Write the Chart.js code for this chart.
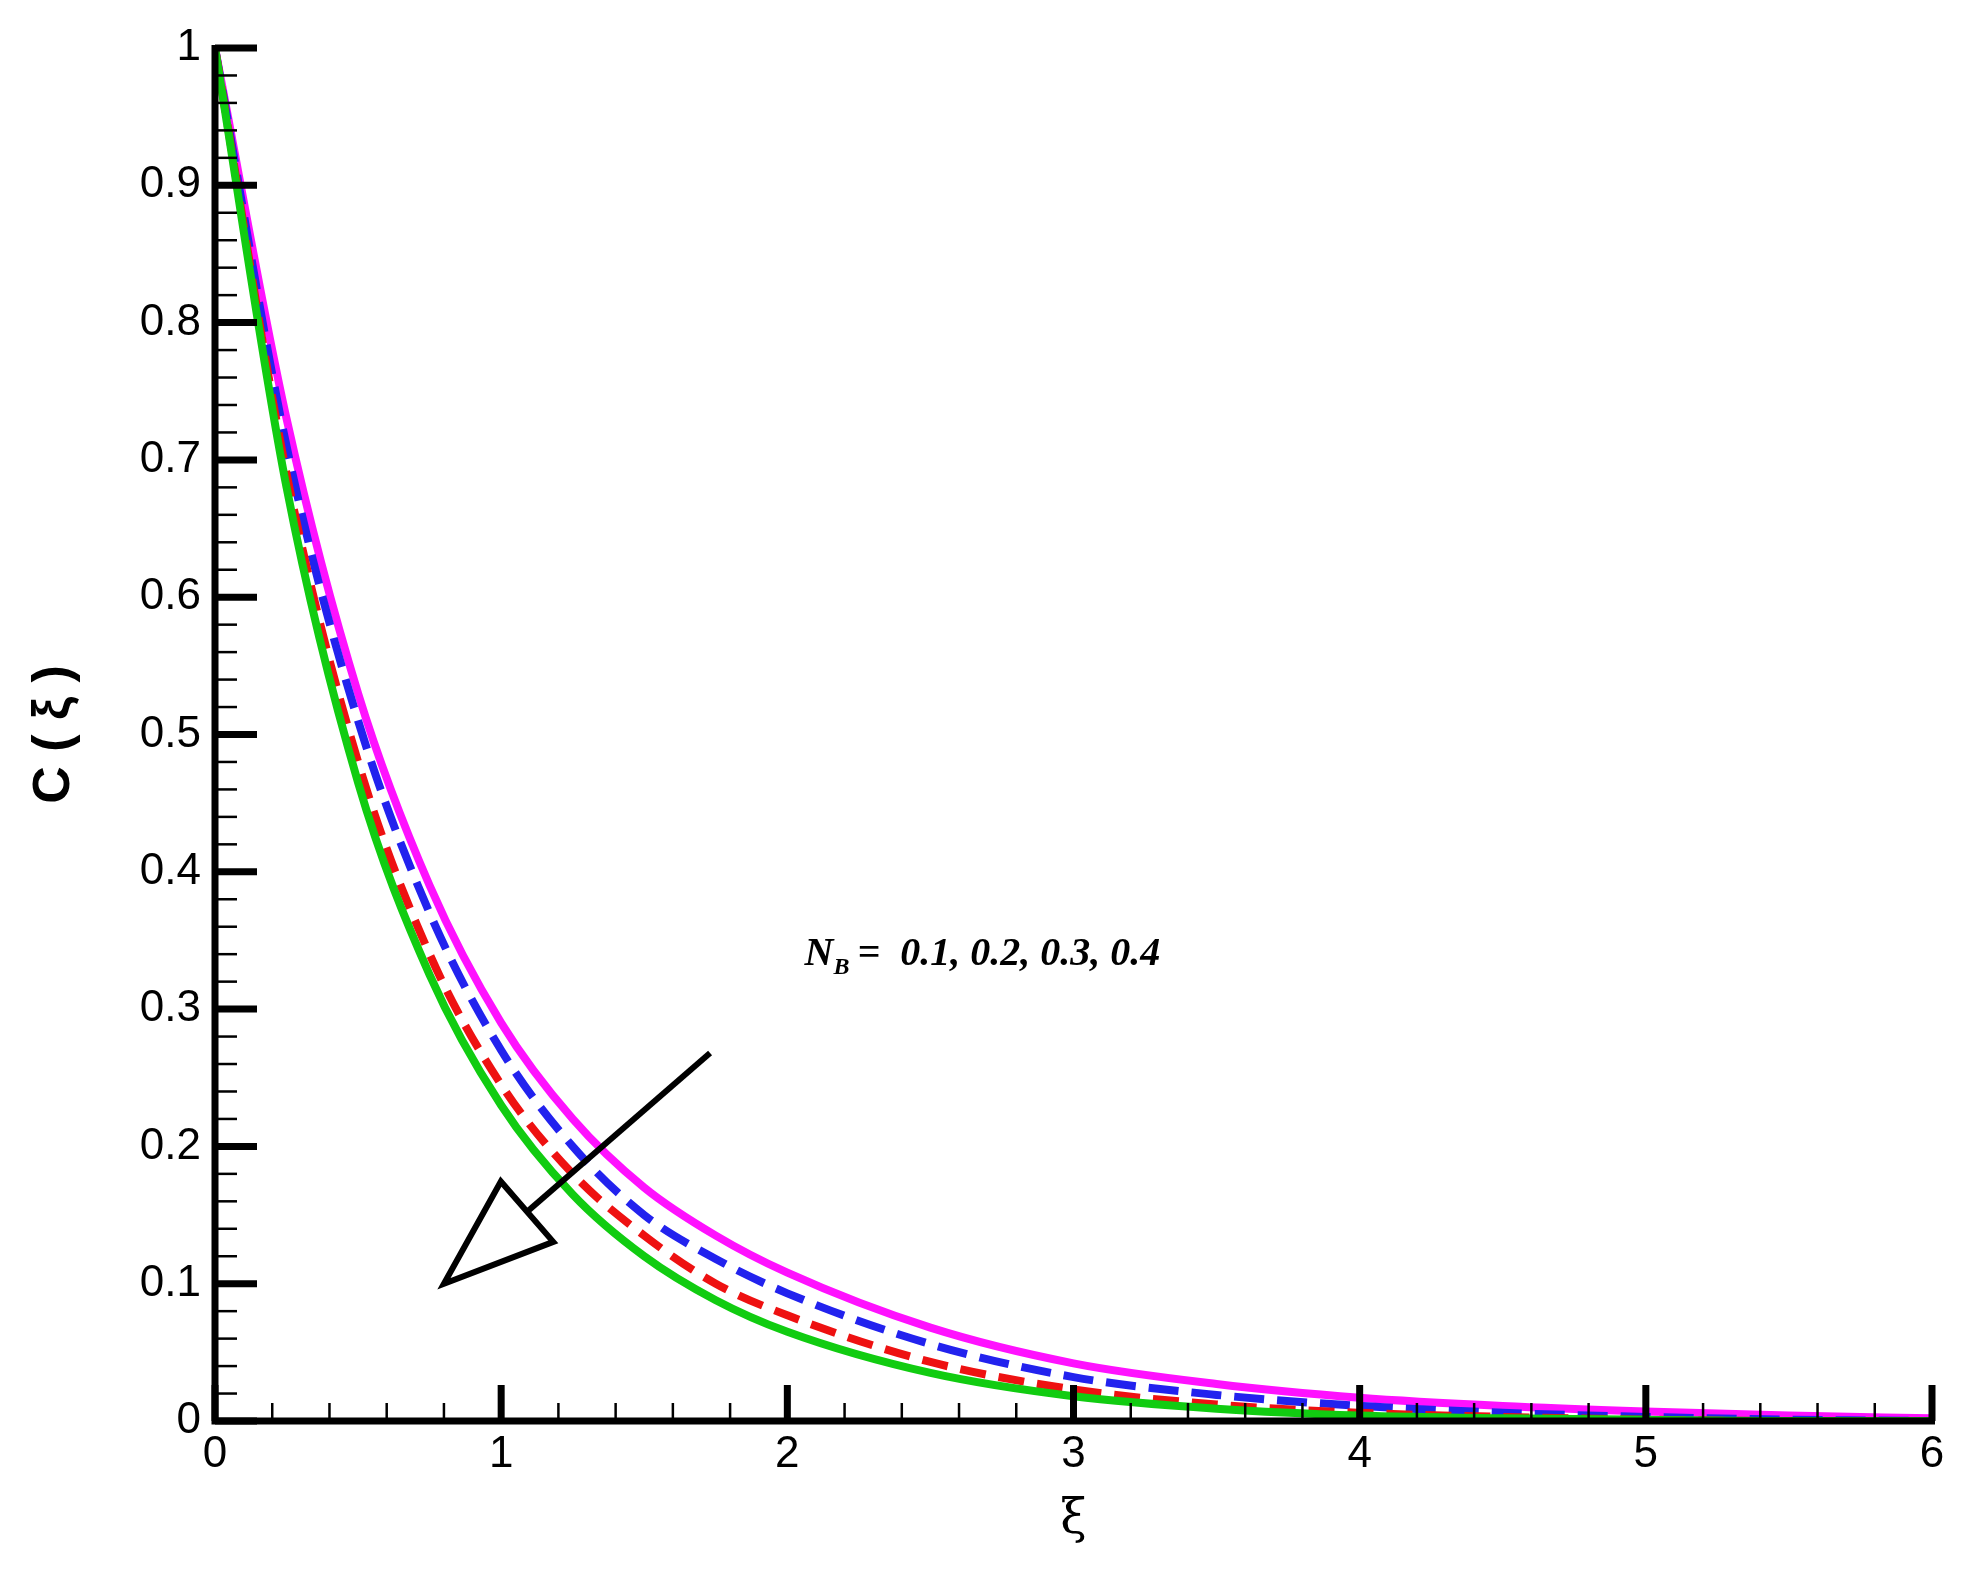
<!DOCTYPE html>
<html><head><meta charset="utf-8">
<script src="https://cdn.jsdelivr.net/npm/chart.js@4/dist/chart.umd.min.js"></script>
<style>html,body{margin:0;background:#fff}#wrap{width:1970px;height:1584px}</style>
</head><body><div id="wrap"><canvas id="c"></canvas></div>
<script>
// ── Data ─────────────────────────────────────
const XI      = [0, 0.25, 0.5, 0.75, 1, 1.25, 1.5, 1.75, 2, 2.5, 3, 3.5, 4, 4.5, 5, 5.5, 6];
const NB_01   = [1, 0.73, 0.53, 0.39, 0.29, 0.22, 0.17, 0.135, 0.108, 0.068, 0.042, 0.027, 0.017, 0.011, 0.007, 0.004, 0.002];
const NB_02   = [1, 0.71, 0.51, 0.37, 0.27, 0.20, 0.15, 0.118, 0.093, 0.056, 0.032, 0.019, 0.011, 0.006, 0.003, 0.001, 0];
const NB_03   = [1, 0.69, 0.48, 0.34, 0.245, 0.18, 0.135, 0.10, 0.077, 0.043, 0.023, 0.012, 0.006, 0.003, 0.001, 0, 0];
const NB_04   = [1, 0.68, 0.465, 0.325, 0.23, 0.165, 0.12, 0.088, 0.065, 0.035, 0.018, 0.009, 0.004, 0.002, 0.001, 0, 0];
const X_TICKS = [0, 1, 2, 3, 4, 5, 6];
const Y_TICKS = [0, 0.1, 0.2, 0.3, 0.4, 0.5, 0.6, 0.7, 0.8, 0.9, 1];

const pts = ys => XI.map((x, i) => ({ x, y: ys[i] }));

// ── Axes, labels and arrow drawn by hand ─────
const frame = {
  id: 'frame',
  afterDraw(chart) {
    const { ctx, chartArea: a, scales: { x, y } } = chart;
    ctx.save();
    ctx.strokeStyle = '#000';
    ctx.fillStyle = '#000';
    ctx.lineCap = 'butt';
    // axis lines
    ctx.lineWidth = 7;
    ctx.beginPath();
    ctx.moveTo(a.left, a.top - 3); ctx.lineTo(a.left, a.bottom);
    ctx.lineTo(a.right + 3, a.bottom);
    ctx.stroke();
    // x ticks
    for (let v = 0; v <= 6.001; v += 0.2) {
      const px = x.getPixelForValue(v);
      const major = Math.abs(v - Math.round(v)) < 1e-6;
      ctx.lineWidth = major ? 7 : 2.5;
      ctx.beginPath();
      ctx.moveTo(px, a.bottom); ctx.lineTo(px, a.bottom - (major ? 36 : 18));
      ctx.stroke();
    }
    // y ticks
    for (let v = 0; v <= 1.0001; v += 0.02) {
      const py = y.getPixelForValue(v);
      const major = Math.abs(v * 10 - Math.round(v * 10)) < 1e-6;
      ctx.lineWidth = major ? 7 : 2.5;
      ctx.beginPath();
      ctx.moveTo(a.left, py); ctx.lineTo(a.left + (major ? 42 : 22), py);
      ctx.stroke();
    }
    // tick labels
    ctx.font = '44px "Liberation Sans", Arial, sans-serif';
    ctx.textAlign = 'center'; ctx.textBaseline = 'top';
    X_TICKS.forEach(v => ctx.fillText(String(v), x.getPixelForValue(v), a.bottom + 12));
    ctx.textAlign = 'right'; ctx.textBaseline = 'middle';
    Y_TICKS.forEach(v => ctx.fillText(String(v), a.left - 14, y.getPixelForValue(v)));
    // axis titles
    ctx.textAlign = 'center';
    ctx.font = '48px "DejaVu Serif", serif';
    ctx.fillText('ξ', x.getPixelForValue(3), a.bottom + 100);
    ctx.save();
    ctx.translate(55, y.getPixelForValue(0.5));
    ctx.rotate(-Math.PI / 2);
    ctx.font = 'bold 52px "Liberation Sans", Arial, sans-serif';
    ctx.fillText('C ( ξ )', 0, 0);
    ctx.restore();
    // annotation
    ctx.textAlign = 'left';
    ctx.font = 'bold italic 40px "Liberation Serif", serif';
    const tx = x.getPixelForValue(2.06), ty = y.getPixelForValue(0.34);
    ctx.fillText('N', tx, ty);
    const nw = ctx.measureText('N').width;
    ctx.font = 'bold italic 24px "Liberation Serif", serif';
    ctx.fillText('B', tx + nw, ty + 14);
    ctx.font = 'bold italic 40px "Liberation Serif", serif';
    ctx.fillText(' =  0.1, 0.2, 0.3, 0.4', tx + nw + 14, ty);
    // arrow
    const x1 = x.getPixelForValue(1.73), y1 = y.getPixelForValue(0.268);
    const x2 = x.getPixelForValue(0.80), y2 = y.getPixelForValue(0.100);
    const ang = Math.atan2(y2 - y1, x2 - x1);
    const hl = 110, hw = 40;
    const bx = x2 - hl * Math.cos(ang), by = y2 - hl * Math.sin(ang);
    const nx = -Math.sin(ang), ny = Math.cos(ang);
    ctx.lineWidth = 6;
    ctx.beginPath();
    ctx.moveTo(x1, y1); ctx.lineTo(bx, by);
    ctx.stroke();
    ctx.beginPath();
    ctx.moveTo(x2, y2);
    ctx.lineTo(bx + nx * hw, by + ny * hw);
    ctx.lineTo(bx - nx * hw, by - ny * hw);
    ctx.closePath();
    ctx.stroke();
    ctx.restore();
  }
};

const line = (ys, color, dash) => ({
  data: pts(ys), borderColor: color, borderWidth: 8, borderDash: dash,
  pointRadius: 0, cubicInterpolationMode: 'monotone', fill: false
});

new Chart(document.getElementById('c'), {
  type: 'line',
  data: {
    datasets: [
      line(NB_04, '#11cc11', []),
      line(NB_03, '#ee1111', [26, 13]),
      line(NB_02, '#2222ee', [30, 13]),
      line(NB_01, '#ff11ff', []),
    ]
  },
  options: {
    responsive: true, maintainAspectRatio: false, animation: false,
    layout: { padding: { left: 215, right: 38, top: 48, bottom: 163 } },
    plugins: { legend: { display: false }, tooltip: { enabled: false } },
    scales: {
      x: { type: 'linear', min: 0, max: 6, display: false },
      y: { min: 0, max: 1, display: false }
    }
  },
  plugins: [frame]
});
</script></body></html>
